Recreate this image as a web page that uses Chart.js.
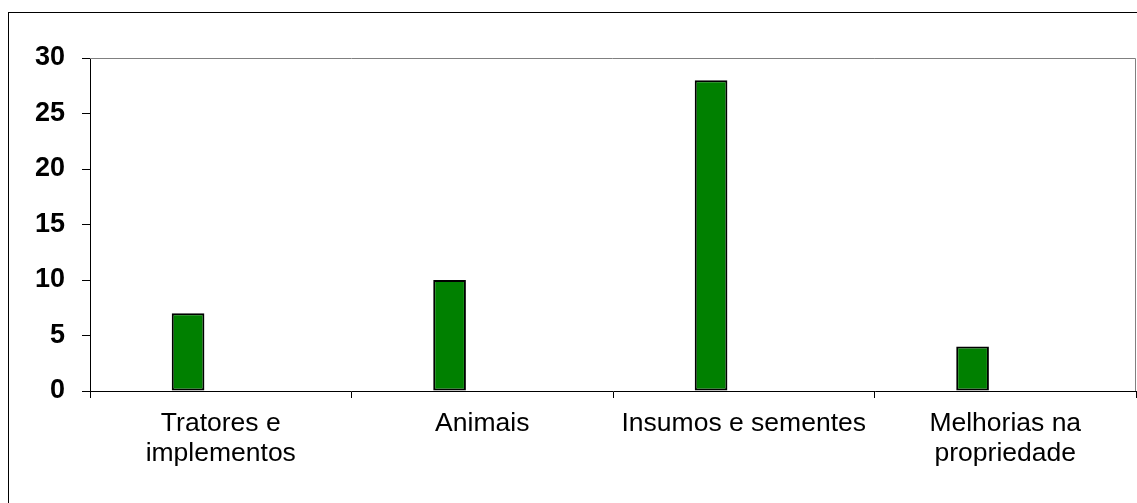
<!DOCTYPE html>
<html lang="pt">
<head>
  <meta charset="UTF-8">
  <title>Aplicação dos recursos</title>
  <style>
    html, body { margin: 0; padding: 0; background: #fff; overflow: hidden; }
    #moldura {
      position: absolute; left: 8px; top: 12px;
      width: 1300px; height: 700px;
      border: 1px solid #000;
    }
    #caixa { position: absolute; left: 0; top: 0; width: 1137px; height: 503px; }
  </style>
</head>
<body>
  <div id="moldura"></div>
  <div id="caixa"><canvas id="grafico"></canvas></div>

  <script src="https://cdn.jsdelivr.net/npm/chart.js"></script>
  <script>
    // categorias e valores
    const categorias = [
      ['Tratores e', 'implementos'],
      'Animais',
      'Insumos e sementes',
      ['Melhorias na', 'propriedade']
    ];
    const valores = [7, 10, 28, 4];
    // as outras duas séries da planilha estão vazias
    const serieVazia2 = [null, null, null, null];
    const serieVazia3 = [null, null, null, null];
    const marcasY = [0, 5, 10, 15, 20, 25, 30];

    // bordas superior e direita da área de plotagem, em cinza
    const bordaArea = {
      id: 'bordaArea',
      afterDraw(chart) {
        const { ctx, chartArea } = chart;
        const l = Math.round(chartArea.left), t = Math.round(chartArea.top);
        const r = Math.round(chartArea.right), b = Math.round(chartArea.bottom);
        ctx.save();
        ctx.strokeStyle = '#808080';
        ctx.lineWidth = 1;
        ctx.beginPath();
        ctx.moveTo(l, t + 0.5);
        ctx.lineTo(r - 0.5, t + 0.5);
        ctx.lineTo(r - 0.5, b);
        ctx.stroke();
        ctx.restore();
      }
    };

    const barraBase = {
      backgroundColor: '#008000',
      borderColor: '#000000',
      borderWidth: 2,
      borderSkipped: false,
      barPercentage: 1,
      categoryPercentage: 0.375
    };

    new Chart(document.getElementById('grafico'), {
      type: 'bar',
      data: {
        labels: categorias,
        datasets: [
          Object.assign({ label: 'Série 1', data: valores }, barraBase),
          Object.assign({ label: 'Série 2', data: serieVazia2 }, barraBase),
          Object.assign({ label: 'Série 3', data: serieVazia3 }, barraBase)
        ]
      },
      options: {
        responsive: true,
        maintainAspectRatio: false,
        animation: false,
        layout: { padding: { top: 58, right: 1, left: 0, bottom: 0 } },
        plugins: { legend: { display: false }, tooltip: { enabled: false } },
        scales: {
          x: {
            afterFit(scale) { scale.height = 112; },
            grid: {
              offset: true,
              drawOnChartArea: false,
              drawTicks: true,
              tickLength: 7,
              color: '#000'
            },
            border: { display: true, color: '#000', width: 1 },
            ticks: {
              autoSkip: false,
              maxRotation: 0,
              padding: 10,
              color: '#000',
              font: { family: 'Arial, "Liberation Sans", sans-serif', size: 26.5, lineHeight: 1.16 }
            }
          },
          y: {
            min: 0,
            max: 30,
            afterFit(scale) { scale.width = 90; },
            afterBuildTicks(scale) { scale.ticks = marcasY.map(v => ({ value: v })); },
            grid: {
              drawOnChartArea: false,
              drawTicks: true,
              tickLength: 8,
              color: '#000'
            },
            border: { display: true, color: '#000', width: 1 },
            ticks: {
              padding: 17,
              color: '#000',
              font: { family: 'Arial, "Liberation Sans", sans-serif', size: 27, weight: 'bold' }
            }
          }
        }
      },
      plugins: [bordaArea]
    });
  </script>
</body>
</html>
